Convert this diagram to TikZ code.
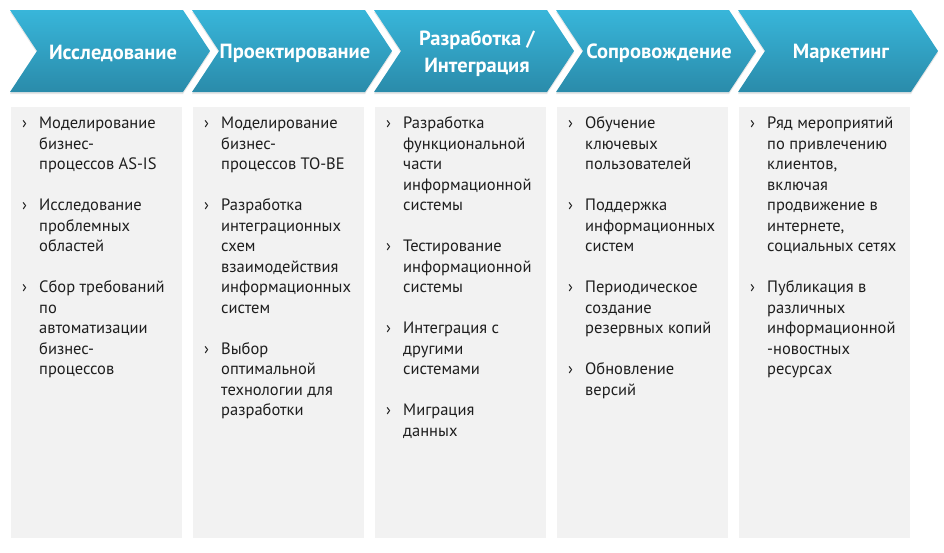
\documentclass[tikz,border=0pt]{standalone}
\usepackage{fontspec}
\setmainfont{PT Sans}
\usepackage{xcolor}
\usetikzlibrary{shadows,positioning}
\definecolor{chevtop}{HTML}{38B6DA}
\definecolor{chevbot}{HTML}{2A8BAA}
\definecolor{boxgray}{HTML}{F2F2F2}
\definecolor{txtgray}{HTML}{1E1E1E}
\tikzset{phase/.style={top color=chevtop,bottom color=chevbot,draw=none,drop shadow={opacity=0.2,shadow xshift=0pt,shadow yshift=-2pt}},}
\tikzset{head/.style={text=white,font=\fontsize{20.5}{27}\selectfont\bfseries,align=center,inner sep=0pt},}
\tikzset{column/.style={rectangle,fill=boxgray,minimum width=171pt,minimum height=431pt,inner sep=0pt},}
\tikzset{items/.style={anchor=north west,inner sep=0pt,text=txtgray,font=\fontsize{16.5}{20.5}\selectfont},}
\newcommand{\punkt}{\makebox[17pt][l]{›}}

\begin{document}
\begin{tikzpicture}[x=1pt,y=-1pt]
  \useasboundingbox (0,0) rectangle (944,552);
    % chevrons
    \shade[phase] (10,10) -- (183,10) -- (210,51) -- (183,92) -- (10,92) -- (37,51) -- cycle;
    \shade[phase] (192,10) -- (365,10) -- (392,51) -- (365,92) -- (192,92) -- (219,51) -- cycle;
    \shade[phase] (374,10) -- (547,10) -- (574,51) -- (547,92) -- (374,92) -- (401,51) -- cycle;
    \shade[phase] (556,10) -- (729,10) -- (756,51) -- (729,92) -- (556,92) -- (583,51) -- cycle;
    \shade[phase] (738,10) -- (911,10) -- (938,51) -- (911,92) -- (738,92) -- (765,51) -- cycle;
    \node[head] (1) at (113,53) {Исследование};
    \node[head] (2) at (295,53) {Проектирование};
    \node[head] (3) at (477,53.5) {Разработка /\\Интеграция};
    \node[head] (4) at (659,53) {Сопровождение};
    \node[head] (5) at (841,53) {Маркетинг};

    % columns
    \node[column] (c1) at (96.5,322.5) {};
    \node[column] (c2) at (278.5,322.5) {};
    \node[column] (c3) at (460.5,322.5) {};
    \node[column] (c4) at (642.5,322.5) {};
    \node[column] (c5) at (824.5,322.5) {};

    % bullet lists
    \node[items] (t1) at (22,114) {\begin{tabular}{@{}l@{}l@{}}
      \punkt & Моделирование\\ & бизнес-\\ & процессов AS-IS\\ & \\
      \punkt & Исследование\\ & проблемных\\ & областей\\ & \\
      \punkt & Сбор требований\\ & по\\ & автоматизации\\ & бизнес-\\ & процессов
      \end{tabular}};
    \node[items] (t2) at (204,114) {\begin{tabular}{@{}l@{}l@{}}
      \punkt & Моделирование\\ & бизнес-\\ & процессов TO-BE\\ & \\
      \punkt & Разработка\\ & интеграционных\\ & схем\\ & взаимодействия\\ & информационных\\ & систем\\ & \\
      \punkt & Выбор\\ & оптимальной\\ & технологии для\\ & разработки
      \end{tabular}};
    \node[items] (t3) at (386,114) {\begin{tabular}{@{}l@{}l@{}}
      \punkt & Разработка\\ & функциональной\\ & части\\ & информационной\\ & системы\\ & \\
      \punkt & Тестирование\\ & информационной\\ & системы\\ & \\
      \punkt & Интеграция с\\ & другими\\ & системами\\ & \\
      \punkt & Миграция\\ & данных
      \end{tabular}};
    \node[items] (t4) at (568,114) {\begin{tabular}{@{}l@{}l@{}}
      \punkt & Обучение\\ & ключевых\\ & пользователей\\ & \\
      \punkt & Поддержка\\ & информационных\\ & систем\\ & \\
      \punkt & Периодическое\\ & создание\\ & резервных копий\\ & \\
      \punkt & Обновление\\ & версий
      \end{tabular}};
    \node[items] (t5) at (750,114) {\begin{tabular}{@{}l@{}l@{}}
      \punkt & Ряд мероприятий\\ & по привлечению\\ & клиентов,\\ & включая\\ & продвижение в\\ & интернете,\\ & социальных сетях\\ & \\
      \punkt & Публикация в\\ & различных\\ & информационной\\ & -новостных\\ & ресурсах
      \end{tabular}};
\end{tikzpicture}
\end{document}
